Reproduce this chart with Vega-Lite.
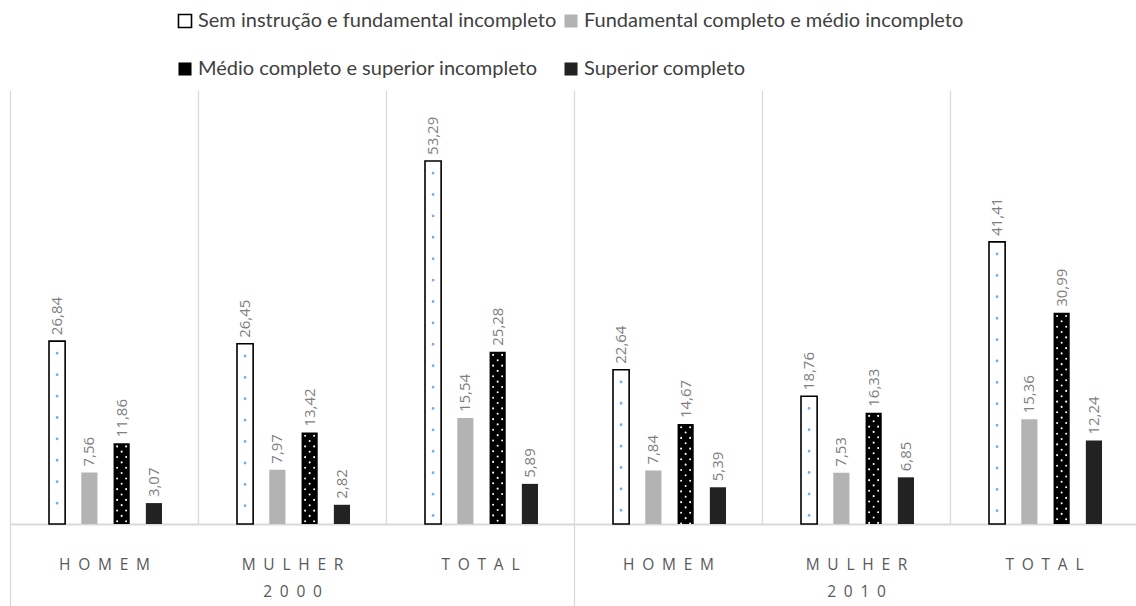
{
  "$schema": "https://vega.github.io/schema/vega-lite/v6.json",
  "width": 1128,
  "height": 434,
  "autosize": {"type": "none"},
  "padding": {"left": 10, "top": 90, "right": 0, "bottom": 82},
  "background": "white",
  "config": {
    "view": {"stroke": null},
    "locale": {"number": {"decimal": ",", "thousands": ".", "grouping": [3], "currency": ["R$", ""]}}
  },
  "data": {
    "values": [
      {"ano": "2000", "sexo": "HOMEM", "nivel": "Sem instrução e fundamental incompleto", "valor": 26.84},
      {"ano": "2000", "sexo": "HOMEM", "nivel": "Fundamental completo e médio incompleto", "valor": 7.56},
      {"ano": "2000", "sexo": "HOMEM", "nivel": "Médio completo e superior incompleto", "valor": 11.86},
      {"ano": "2000", "sexo": "HOMEM", "nivel": "Superior completo", "valor": 3.07},
      {"ano": "2000", "sexo": "MULHER", "nivel": "Sem instrução e fundamental incompleto", "valor": 26.45},
      {"ano": "2000", "sexo": "MULHER", "nivel": "Fundamental completo e médio incompleto", "valor": 7.97},
      {"ano": "2000", "sexo": "MULHER", "nivel": "Médio completo e superior incompleto", "valor": 13.42},
      {"ano": "2000", "sexo": "MULHER", "nivel": "Superior completo", "valor": 2.82},
      {"ano": "2000", "sexo": "TOTAL", "nivel": "Sem instrução e fundamental incompleto", "valor": 53.29},
      {"ano": "2000", "sexo": "TOTAL", "nivel": "Fundamental completo e médio incompleto", "valor": 15.54},
      {"ano": "2000", "sexo": "TOTAL", "nivel": "Médio completo e superior incompleto", "valor": 25.28},
      {"ano": "2000", "sexo": "TOTAL", "nivel": "Superior completo", "valor": 5.89},
      {"ano": "2010", "sexo": "HOMEM", "nivel": "Sem instrução e fundamental incompleto", "valor": 22.64},
      {"ano": "2010", "sexo": "HOMEM", "nivel": "Fundamental completo e médio incompleto", "valor": 7.84},
      {"ano": "2010", "sexo": "HOMEM", "nivel": "Médio completo e superior incompleto", "valor": 14.67},
      {"ano": "2010", "sexo": "HOMEM", "nivel": "Superior completo", "valor": 5.39},
      {"ano": "2010", "sexo": "MULHER", "nivel": "Sem instrução e fundamental incompleto", "valor": 18.76},
      {"ano": "2010", "sexo": "MULHER", "nivel": "Fundamental completo e médio incompleto", "valor": 7.53},
      {"ano": "2010", "sexo": "MULHER", "nivel": "Médio completo e superior incompleto", "valor": 16.33},
      {"ano": "2010", "sexo": "MULHER", "nivel": "Superior completo", "valor": 6.85},
      {"ano": "2010", "sexo": "TOTAL", "nivel": "Sem instrução e fundamental incompleto", "valor": 41.41},
      {"ano": "2010", "sexo": "TOTAL", "nivel": "Fundamental completo e médio incompleto", "valor": 15.36},
      {"ano": "2010", "sexo": "TOTAL", "nivel": "Médio completo e superior incompleto", "valor": 30.99},
      {"ano": "2010", "sexo": "TOTAL", "nivel": "Superior completo", "valor": 12.24}
    ]
  },
  "transform": [{"calculate": "datum.ano + ' ' + datum.sexo", "as": "grupo"}],
  "encoding": {
    "y": {"field": "valor", "type": "quantitative", "scale": {"domain": [0, 63.7]}, "axis": null}
  },
  "layer": [
    {
      "mark": {"type": "bar", "strokeWidth": 1.6},
      "encoding": {
        "x": {
          "field": "grupo", "type": "nominal", "sort": null,
          "scale": {"domain": ["2000 HOMEM", "2000 MULHER", "2000 TOTAL", "2010 HOMEM", "2010 MULHER", "2010 TOTAL"], "paddingInner": 0, "paddingOuter": 0},
          "axis": {
            "title": null,
            "labelAngle": 0,
            "domainColor": "#d9d9d9",
            "domainWidth": 1.8,
            "grid": true,
            "gridColor": "#d9d9d9",
            "gridWidth": 1.3,
            "tickBand": "extent",
            "ticks": true,
            "tickSize": 82,
            "tickWidth": 1.3,
            "tickColor": "#d9d9d9",
            "tickOpacity": {"condition": {"test": "!isString(datum.value) || indexof(datum.value, 'TOTAL') >= 0", "value": 1}, "value": 0},
            "labelPadding": -49,
            "labelBaseline": "top",
            "labelFont": "Open Sans",
            "labelFontSize": 15.5,
            "labelColor": "#595959",
            "labelLineHeight": 27,
            "labelExpr": "slice(datum.label, 5) === 'MULHER' ? [trim(slice(datum.label,5,6) + '\u2002' + slice(datum.label,6,7) + '\u2002' + slice(datum.label,7,8) + '\u2002' + slice(datum.label,8,9) + '\u2002' + slice(datum.label,9,10) + '\u2002' + slice(datum.label,10,11)), trim(slice(datum.label,0,1) + '\u2002' + slice(datum.label,1,2) + '\u2002' + slice(datum.label,2,3) + '\u2002' + slice(datum.label,3,4))] : trim(slice(datum.label,5,6) + '\u2002' + slice(datum.label,6,7) + '\u2002' + slice(datum.label,7,8) + '\u2002' + slice(datum.label,8,9) + '\u2002' + slice(datum.label,9,10) + '\u2002' + slice(datum.label,10,11))"
          }
        },
        "xOffset": {
          "field": "nivel", "type": "nominal",
          "sort": ["Sem instrução e fundamental incompleto", "Fundamental completo e médio incompleto", "Médio completo e superior incompleto", "Superior completo"],
          "scale": {"range": [39, 152], "paddingInner": 0.5, "paddingOuter": 0}
        },
        "fill": {
          "field": "nivel", "type": "nominal",
          "sort": ["Sem instrução e fundamental incompleto", "Fundamental completo e médio incompleto", "Médio completo e superior incompleto", "Superior completo"],
          "scale": {"range": ["#ffffff", "#b3b3b3", "#000000", "#222222"]},
          "legend": {
            "title": null,
            "orient": "none",
            "legendX": 165,
            "legendY": -79,
            "direction": "horizontal",
            "columns": 2,
            "columnPadding": 4,
            "rowPadding": 28,
            "symbolType": "square",
            "symbolSize": 170,
            "labelFont": "Lato",
            "labelFontSize": 20,
            "labelColor": "#404040",
            "labelOffset": 3,
            "labelLimit": 600,
            "encode": {
              "symbols": {
                "update": {
                  "stroke": [{"test": "datum.index === 0", "value": "#000000"}, {"value": "transparent"}],
                  "strokeWidth": {"value": 1.6}
                }
              }
            }
          }
        },
        "stroke": {
          "field": "nivel", "type": "nominal",
          "sort": ["Sem instrução e fundamental incompleto", "Fundamental completo e médio incompleto", "Médio completo e superior incompleto", "Superior completo"],
          "scale": {"range": ["#000000", "transparent", "transparent", "transparent"]},
          "legend": null
        }
      }
    },
    {
      "transform": [{"filter": "datum.nivel === 'Sem instrução e fundamental incompleto'"}],
      "mark": {"type": "rule", "stroke": "#79aee3", "strokeWidth": 2.8, "strokeCap": "round", "strokeDash": [0.1, 21.3], "strokeDashOffset": 9.3},
      "encoding": {
        "x": {"field": "grupo", "type": "nominal", "sort": null},
        "xOffset": {"field": "nivel", "type": "nominal", "sort": ["Sem instrução e fundamental incompleto", "Fundamental completo e médio incompleto", "Médio completo e superior incompleto", "Superior completo"]},
        "y2": {"datum": 0}
      }
    },
    {
      "transform": [{"filter": "datum.nivel === 'Médio completo e superior incompleto'"}],
      "mark": {"type": "rule", "stroke": "#ffffff", "strokeWidth": 2, "strokeCap": "round", "strokeDash": [0.1, 10.6], "strokeDashOffset": 2.3},
      "encoding": {
        "x": {"field": "grupo", "type": "nominal", "sort": null},
        "xOffset": {"field": "nivel", "type": "nominal", "sort": ["Sem instrução e fundamental incompleto", "Fundamental completo e médio incompleto", "Médio completo e superior incompleto", "Superior completo"]},
        "y2": {"datum": 0}
      }
    },
    {
      "transform": [{"filter": "datum.nivel === 'Médio completo e superior incompleto'"}],
      "mark": {"type": "rule", "stroke": "#ffffff", "strokeWidth": 2, "strokeCap": "round", "strokeDash": [0.1, 10.6], "strokeDashOffset": 7.6, "xOffset": -4.5},
      "encoding": {
        "x": {"field": "grupo", "type": "nominal", "sort": null, "bandPosition": 0.5937},
        "y2": {"datum": 0}
      }
    },
    {
      "transform": [{"filter": "datum.nivel === 'Médio completo e superior incompleto'"}],
      "mark": {"type": "rule", "stroke": "#ffffff", "strokeWidth": 2, "strokeCap": "round", "strokeDash": [0.1, 10.6], "strokeDashOffset": 7.6, "xOffset": 4.5},
      "encoding": {
        "x": {"field": "grupo", "type": "nominal", "sort": null, "bandPosition": 0.5937},
        "y2": {"datum": 0}
      }
    },
    {
      "mark": {"type": "text", "angle": 270, "align": "left", "baseline": "middle", "dx": 6, "font": "Open Sans", "fontSize": 15, "fill": "#7f7f7f"},
      "encoding": {
        "x": {"field": "grupo", "type": "nominal", "sort": null},
        "xOffset": {"field": "nivel", "type": "nominal", "sort": ["Sem instrução e fundamental incompleto", "Fundamental completo e médio incompleto", "Médio completo e superior incompleto", "Superior completo"]},
        "text": {"field": "valor", "type": "quantitative", "format": ".2f"}
      }
    }
  ]
}
